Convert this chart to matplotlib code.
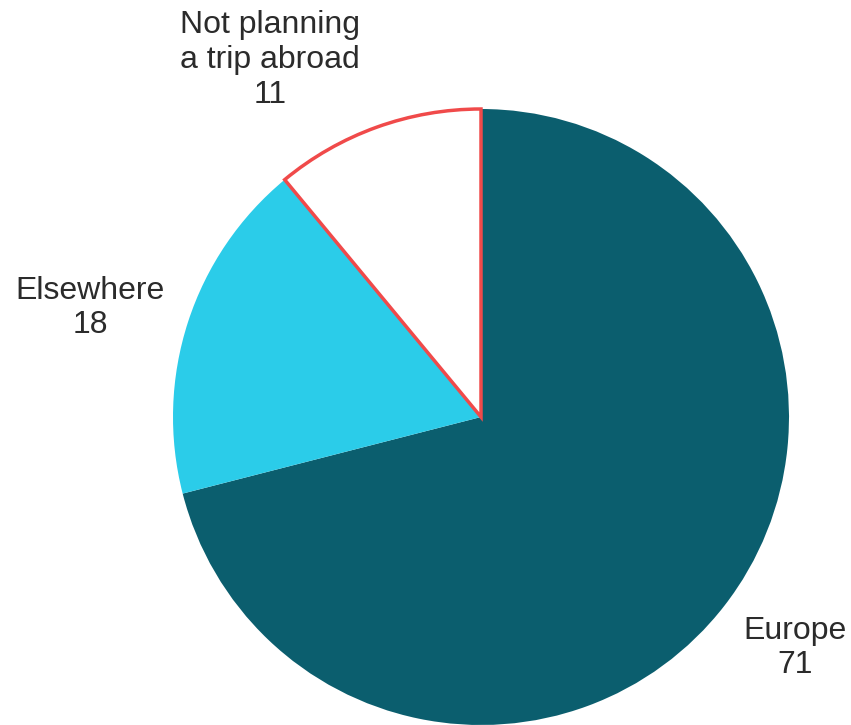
import matplotlib
matplotlib.use("Agg")
import matplotlib.pyplot as plt

categories = ["Europe", "Elsewhere", "Not planning\na trip abroad"]
values = [71, 18, 11]
colors = ["#0b5e6e", "#2bcce9", "#ffffff"]
edgecolors = ["#0b5e6e", "#2bcce9", "#f04a4a"]

W, H = 851, 725
fig = plt.figure(figsize=(W / 100, H / 100), dpi=100)
ax = fig.add_axes([0, 0, 1, 1])

cx, cy, r = 481, H - 417, 308
wedges, _ = ax.pie(values, startangle=90, counterclock=False, colors=colors,
                   center=(cx, cy), radius=r, frame=True)
for w, ec in zip(wedges, edgecolors):
    w.set_edgecolor(ec)
    w.set_linewidth(0 if ec != "#f04a4a" else 2.5)
wedges[2].set_zorder(3)
ax.set_xlim(0, W)
ax.set_ylim(0, H)
ax.set_aspect("equal")
ax.axis("off")

label_pos = [(795, H - 648), (90, H - 308), (270, H - 60)]
for cat, v, (x, y) in zip(categories, values, label_pos):
    ax.text(x, y, f"{cat}\n{v}", ha="center", va="center", fontsize=23,
            family="Liberation Sans", color="#2b2b2b", linespacing=1.2)

fig.savefig("out.png", dpi=100)
